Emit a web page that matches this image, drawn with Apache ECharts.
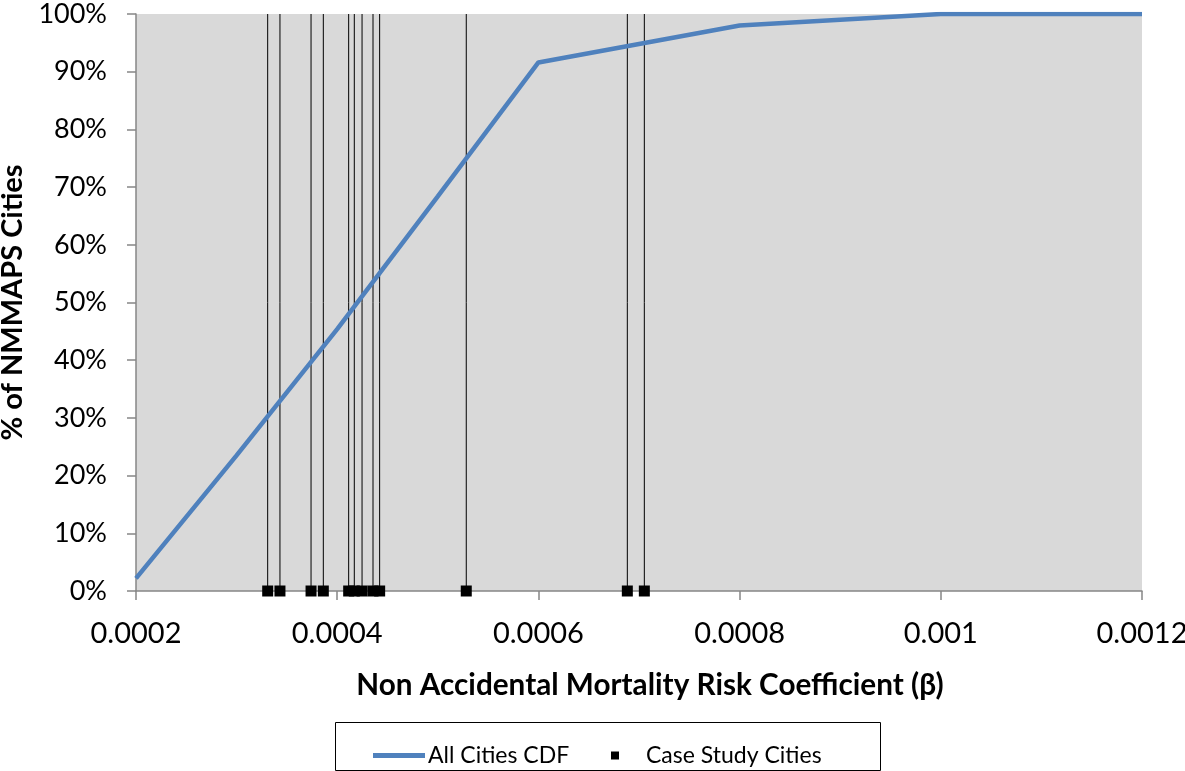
<!DOCTYPE html>
<html>
<head>
<meta charset="utf-8">
<script src="https://cdn.jsdelivr.net/npm/echarts@6/dist/echarts.min.js"></script>
<style>
html,body{margin:0;padding:0;background:#fff;}
#chart{width:1185px;height:771px;}
</style>
</head>
<body>
<div id="chart"></div>
<script>
// CDF of all NMMAPS cities (x = beta, y = % of cities)
const cdfBeta = [0.0002, 0.0003, 0.0004, 0.0005, 0.0006, 0.0008, 0.001, 0.0012];
const cdfPct  = [2.2, 23.5, 45.4, 68.4, 91.6, 98.0, 100, 100];
// Case study cities betas
const caseBeta = [0.0003309, 0.0003431, 0.000374, 0.0003862, 0.0004114, 0.000417,
                  0.0004247, 0.0004356, 0.0004422, 0.0005283, 0.0006884, 0.0007053];
const caseLevel = 0;
const dropTop = 100;
const xTickLabels = ['0.0002', '0.0004', '0.0006', '0.0008', '0.001', '0.0012'];
const yTickLabels = ['0%','10%','20%','30%','40%','50%','60%','70%','80%','90%','100%'];

const FONT = 'Lato, "Open Sans", sans-serif';
const chart = echarts.init(document.getElementById('chart'), null, {renderer: 'canvas'});

chart.setOption({
  animation: false,
  backgroundColor: '#ffffff',
  textStyle: {fontFamily: FONT},
  grid: {
    left: 136, top: 14, right: 43, bottom: 180,
    containLabel: false, outerBoundsMode: 'none',
    show: true, backgroundColor: '#D9D9D9', borderWidth: 0
  },
  xAxis: {
    type: 'value', min: 0.0002, max: 0.0012, interval: 0.0002,
    name: 'Non Accidental Mortality Risk Coefficient (β)',
    nameLocation: 'middle', nameGap: 79,
    nameTextStyle: {fontSize: 29.7, fontWeight: 'bold', color: '#000', fontFamily: FONT,
                    padding: [0, 0, 0, 22]},
    axisLine: {show: true, onZero: false, lineStyle: {color: '#868686', width: 1.5}},
    axisTick: {show: true, inside: false, length: 9, lineStyle: {color: '#868686', width: 1.5}},
    splitLine: {show: false},
    axisLabel: {
      fontSize: 29, color: '#000', margin: 28, fontFamily: FONT,
      formatter: v => xTickLabels[Math.round((v - 0.0002) / 0.0002)] || ''
    }
  },
  yAxis: {
    type: 'value', min: 0, max: 100, interval: 10,
    name: '% of NMMAPS Cities',
    nameLocation: 'middle', nameGap: 97, nameRotate: 90,
    nameTextStyle: {fontSize: 29, fontWeight: 'bold', color: '#000', fontFamily: FONT},
    axisLine: {show: true, lineStyle: {color: '#868686', width: 1.5}},
    axisTick: {show: true, inside: false, length: 9, lineStyle: {color: '#868686', width: 1.5}},
    splitLine: {show: false},
    axisLabel: {
      fontSize: 27, color: '#000', margin: 29, fontFamily: FONT,
      formatter: v => yTickLabels[Math.round(v / 10)]
    }
  },
  legend: [
    {
      data: [{name: 'All Cities CDF', icon: 'rect'}],
      left: 373, top: 744, padding: 0, itemWidth: 52, itemHeight: 5, itemGap: 0,
      textStyle: {fontSize: 23, color: '#000', fontFamily: FONT, padding: [0, 0, 0, -2]}
    },
    {
      data: [{name: 'Case Study Cities', icon: 'rect'}],
      left: 611, top: 744, padding: 0, itemWidth: 8, itemHeight: 8,
      textStyle: {fontSize: 23, color: '#000', fontFamily: FONT, padding: [0, 0, 0, 22]}
    }
  ],
  graphic: [{
    type: 'rect', shape: {x: 335.5, y: 722.5, width: 545, height: 48},
    style: {fill: 'none', stroke: '#000', lineWidth: 1}, silent: true
  }],
  series: [
    {
      name: 'Case Study Drop Lines', type: 'custom', z: 2, silent: true,
      data: caseBeta.map(b => [b, caseLevel]),
      encode: {x: 0, y: 1},
      renderItem: (params, api) => {
        const p0 = api.coord([api.value(0), caseLevel]);
        const p1 = api.coord([api.value(0), dropTop]);
        return {
          type: 'line',
          shape: {x1: p0[0], y1: p0[1], x2: p1[0], y2: p1[1]},
          style: {stroke: '#000', lineWidth: 1}
        };
      }
    },
    {
      name: 'Case Study Cities', type: 'scatter', z: 5,
      symbol: 'rect', symbolSize: 11,
      itemStyle: {color: '#000', opacity: 1},
      data: caseBeta.map(b => [b, caseLevel])
    },
    {
      name: 'All Cities CDF', type: 'line', z: 4,
      symbol: 'none', smooth: false,
      lineStyle: {color: '#4F81BD', width: 4.5},
      itemStyle: {color: '#4F81BD'},
      data: cdfBeta.map((b, i) => [b, cdfPct[i]])
    }
  ]
});
</script>
</body>
</html>
